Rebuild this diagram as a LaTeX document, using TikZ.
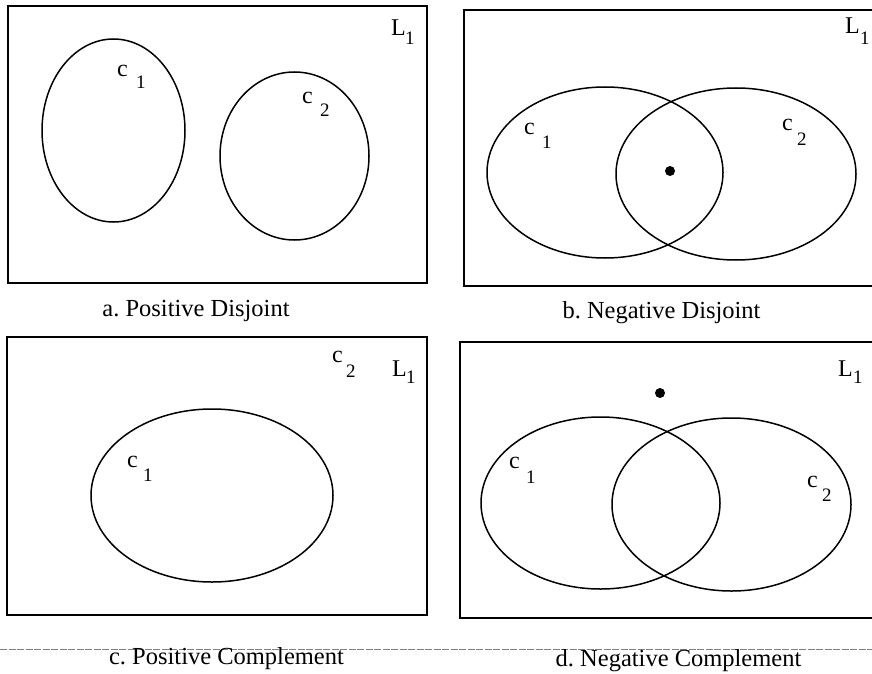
\documentclass[tikz,border=0pt]{standalone}
\usepackage{fontspec}
\setmainfont{Liberation Serif}
\frenchspacing
\begin{document}
\begin{tikzpicture}[x=1pt,y=-1pt,
  frame/.style={draw=black,line width=1.6pt},
  setline/.style={draw=black,line width=1.5pt},
  lbl/.style={anchor=base west,inner sep=0pt,font=\fontsize{24}{26}\selectfont},
  sublbl/.style={anchor=base west,inner sep=0pt,font=\fontsize{19}{21}\selectfont},
  caption/.style={anchor=base,inner sep=0pt,font=\fontsize{24.5}{27}\selectfont},
  elem/.style={circle,fill=black,inner sep=0pt,minimum size=10pt}]
\useasboundingbox (0,0) rectangle (872,674);

% ---------- panel a ----------
\draw[frame] (8,6) rectangle (427,283);
\draw[setline] (113.5,130.5) ellipse [x radius=71.5, y radius=91.5];
\draw[setline] (294.5,156) ellipse [x radius=74.5, y radius=84];
\node[lbl] (ac1) at (117,77) {c};
\node[sublbl] (ac1s) at (136,89) {1};
\node[lbl] (ac2) at (302,103) {c};
\node[sublbl] (ac2s) at (320,117) {2};
\node[lbl] (aL) at (391,36) {L};
\node[sublbl] (aLs) at (405,45) {1};
\node[caption] (capa) at (196,316) {a. Positive Disjoint};

% ---------- panel b ----------
\draw[frame] (874,10) -- (464,10) -- (464,286) -- (874,286);
\draw[setline] (605,172.5) ellipse [x radius=118, y radius=85.5];
\draw[setline] (736,174) ellipse [x radius=120, y radius=86];
\node[elem] (bdot) at (670,171) {};
\node[lbl] (bc1) at (524,135) {c};
\node[sublbl] (bc1s) at (542,148) {1};
\node[lbl] (bc2) at (782,131) {c};
\node[sublbl] (bc2s) at (797,146) {2};
\node[lbl] (bL) at (845,34) {L};
\node[sublbl] (bLs) at (860,45) {1};
\node[caption] (capb) at (661.5,318) {b. Negative Disjoint};

% ---------- panel c ----------
\draw[frame] (7,337) rectangle (427,615);
\draw[setline] (212,495.5) ellipse [x radius=121, y radius=86.5];
\node[lbl] (cc1) at (127,467) {c};
\node[sublbl] (cc1s) at (143,481) {1};
\node[lbl] (cc2) at (332,362) {c};
\node[sublbl] (cc2s) at (346,377) {2};
\node[lbl] (cL) at (392,376) {L};
\node[sublbl] (cLs) at (406,383) {1};

% ---------- panel d ----------
\draw[frame] (874,342) -- (460,342) -- (460,618) -- (874,618);
\draw[setline] (600.5,503) ellipse [x radius=119.5, y radius=86];
\draw[setline] (731.5,504.5) ellipse [x radius=119.5, y radius=86.5];
\node[elem] (ddot) at (660,393) {};
\node[lbl] (dc1) at (509,468) {c};
\node[sublbl] (dc1s) at (526,483) {1};
\node[lbl] (dc2) at (807,487) {c};
\node[sublbl] (dc2s) at (822,501) {2};
\node[lbl] (dL) at (838,376) {L};
\node[sublbl] (dLs) at (853,383) {1};

% ---------- bottom rule and captions ----------
\coordinate (ruleL) at (0,649);
\coordinate (ruleR) at (872,649);
\draw[gray,line width=0.6pt,dash pattern=on 7pt off 1.5pt] (ruleL) -- (ruleR);
\node[caption] (capc) at (226.5,664) {c. Positive Complement};
\node[caption] (capd) at (678.5,666) {d. Negative Complement};
\end{tikzpicture}
\end{document}
